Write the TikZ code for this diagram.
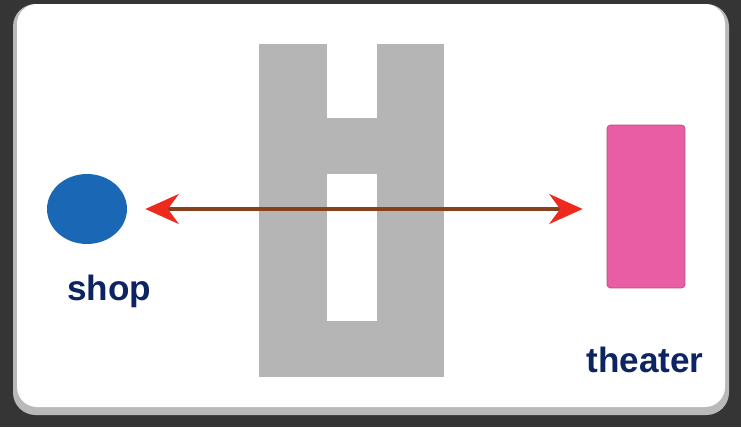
\documentclass[tikz,border=0pt]{standalone}
\usepackage{fontspec}
\setmainfont{Liberation Sans}
\usetikzlibrary{arrows.meta, shapes.geometric}

\definecolor{slate}{HTML}{353535}
\definecolor{wallgray}{HTML}{B5B5B5}
\definecolor{shopblue}{HTML}{1A67B5}
\definecolor{theaterpink}{HTML}{E85DA3}
\definecolor{labelnavy}{HTML}{0D2462}
\definecolor{pathbrown}{HTML}{86401C}
\definecolor{tipred}{HTML}{EE2A1E}

\tikzset{
    place label/.style={font=\bfseries\fontsize{20}{24}\selectfont, text=labelnavy, inner sep=0pt},
}

\begin{document}
\begin{tikzpicture}[x=0.02cm, y=-0.02cm]
    \useasboundingbox (0,0) rectangle (741,427);
    \fill[slate] (0,0) rectangle (741,427);
    % card
    \fill[gray!55, rounded corners=0.45cm] (13,4) rectangle (729,415);
    \fill[white, rounded corners=0.4cm] (17,4) rectangle (725,407);

    % building in the middle
    \fill[wallgray] (259,44) rectangle (444,377);
    \fill[white] (327,44) rectangle (377,118);
    \fill[white] (327,174) rectangle (377,321);

    \node[ellipse, fill=shopblue, minimum width=1.6cm, minimum height=1.4cm, inner sep=0pt] (shop) at (87,209) {};
    \node[rectangle, fill=theaterpink, draw=theaterpink!80!black, rounded corners=2pt,
          minimum width=1.56cm, minimum height=3.26cm, inner sep=0pt] (theater) at (646,206.5) {};

    \node[place label] (shoplabel) at (109,291) {shop};
    \node[place label] (theaterlabel) at (645,360) {theater};

    \draw[pathbrown, line width=2.2pt,
          {Stealth[tipred, length=19pt, width=17pt]}-{Stealth[tipred, length=19pt, width=17pt]},
          shorten <=0.36cm, shorten >=0.48cm]
        (shop.east) -- (shop.east -| theater.west);
\end{tikzpicture}
\end{document}
